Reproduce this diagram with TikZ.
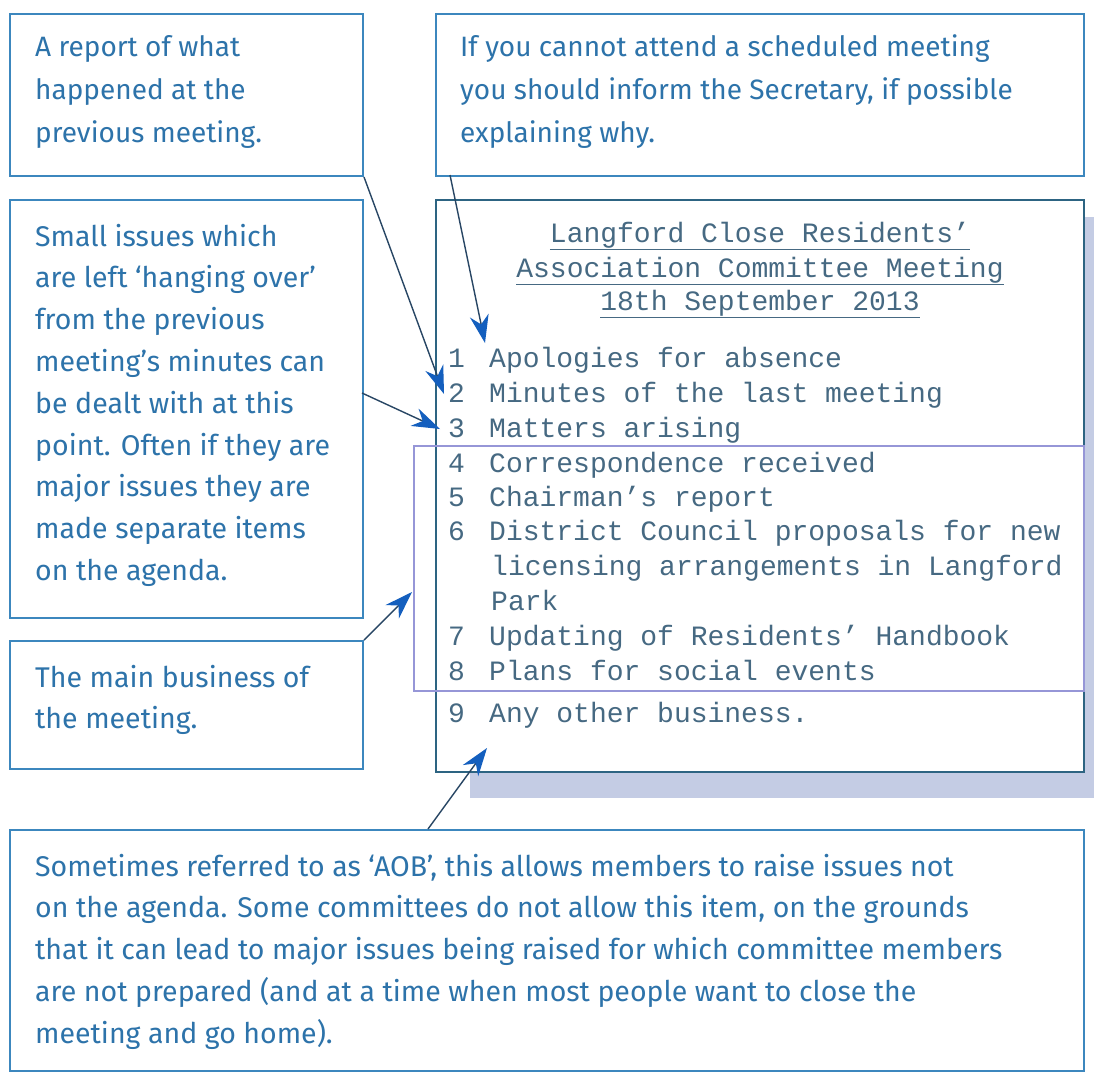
\documentclass[tikz,border=0pt]{standalone}
\usepackage{fontspec}
\setmainfont{Fira Sans}
\setmonofont{Liberation Mono}
\usetikzlibrary{arrows.meta}
\definecolor{boxblue}{RGB}{60,135,190}
\definecolor{agendaline}{RGB}{45,100,130}
\definecolor{innerline}{RGB}{150,150,215}
\definecolor{shadowblue}{RGB}{196,204,228}
\definecolor{noteblue}{RGB}{45,115,170}
\definecolor{monoblue}{RGB}{70,105,130}
\definecolor{arrowline}{RGB}{40,70,100}
\definecolor{headblue}{RGB}{20,95,190}
\tikzset{
  box/.style={draw=boxblue, line width=2pt, fill=white, inner sep=0pt, anchor=north west},
  note/.style={anchor=base west, inner sep=0pt, text=noteblue, font=\fontsize{28.5}{41.8}\selectfont},
  notetop/.style={note, font=\fontsize{28}{43}\selectfont},
  item/.style={anchor=base west, inner sep=0pt, text=monoblue, font=\fontsize{28}{35}\selectfont\ttfamily},
  ttl/.style={anchor=base, inner sep=0pt, text=monoblue, font=\fontsize{28}{35}\selectfont\ttfamily},
  callout/.style={draw=arrowline, line width=1.4pt, -{Stealth[length=28pt,width=19pt,inset=9pt,fill=headblue,color=headblue]}}
}
\begin{document}
\begin{tikzpicture}[x=1pt,y=-1pt]
\useasboundingbox[fill=white] (0,0) rectangle (1094,1071);
% shadow of agenda
\fill[shadowblue] (470,217) rectangle (1094,798);
% boxes
\node[box, minimum width=353pt, minimum height=162pt] (boxA) at (9,13) {};
\node[box, minimum width=648pt, minimum height=162pt] (boxB) at (435,13) {};
\node[box, minimum width=353pt, minimum height=418pt] (boxC) at (9,199) {};
\node[box, minimum width=353pt, minimum height=128pt] (boxD) at (9,640) {};
\node[box, draw=agendaline, minimum width=648pt, minimum height=572pt] (agenda) at (435,199) {};
\node[draw=innerline, line width=1.5pt, inner sep=0pt, anchor=north west, minimum width=670pt, minimum height=245pt] (inner) at (413,445) {};
\node[box, minimum width=1074pt, minimum height=241pt] (boxE) at (9,829) {};
% note texts
\node[notetop] (tA) at (35,56) {\parbox[t]{320pt}{\raggedright A report of what\\happened at the\\previous meeting.}};
\node[notetop] (tB) at (460,56) {\parbox[t]{620pt}{\raggedright If you cannot attend a scheduled meeting\\you should inform the Secretary, if possible\\explaining why.}};
\node[note] (tC) at (35,246) {\parbox[t]{325pt}{\raggedright Small issues which\\are left ‘hanging over’\\from the previous\\meeting’s minutes can\\be dealt with at this\\point. Often if they are\\major issues they are\\made separate items\\on the agenda.}};
\node[note] (tD) at (35,687) {\parbox[t]{325pt}{\raggedright The main business of\\the meeting.}};
\node[note] (tE) at (35,876) {\parbox[t]{1040pt}{\raggedright Sometimes referred to as ‘AOB’, this allows members to raise issues not\\on the agenda. Some committees do not allow this item, on the grounds\\that it can lead to major issues being raised for which committee members\\are not prepared (and at a time when most people want to close the\\meeting and go home).}};
% agenda title
\node[ttl] (ti1) at (760,242) {\underline{Langford Close Residents’}};
\node[ttl] (ti2) at (760,277) {\underline{Association Committee Meeting}};
\node[ttl] (ti3) at (760,310) {\underline{18th September 2013}};
% agenda items
\node[item] (n1) at (448,367) {1}; \node[item] (i1) at (489,367) {Apologies for absence};
\node[item] (n2) at (448,402) {2}; \node[item] (i2) at (489,402) {Minutes of the last meeting};
\node[item] (n3) at (448,437) {3}; \node[item] (i3) at (489,437) {Matters arising};
\node[item] (n4) at (448,472) {4}; \node[item] (i4) at (489,472) {Correspondence received};
\node[item] (n5) at (448,506) {5}; \node[item] (i5) at (489,506) {Chairman’s report};
\node[item] (n6) at (448,540) {6}; \node[item] (i6) at (489,540) {District Council proposals for new};
\node[item] (i6b) at (491,575) {licensing arrangements in Langford};
\node[item] (i6c) at (491,610) {Park};
\node[item] (n7) at (448,645) {7}; \node[item] (i7) at (489,645) {Updating of Residents’ Handbook};
\node[item] (n8) at (448,680) {8}; \node[item] (i8) at (489,680) {Plans for social events};
\node[item] (n9) at (448,722) {9}; \node[item] (i9) at (489,722) {Any other business.};
% connector coordinates
\coordinate (t1) at (444,394);
\coordinate (s2) at (450,175);
\coordinate (t2) at (485,343);
\coordinate (s3) at (362,393);
\coordinate (t3) at (440,429);
\coordinate (t4) at (412,592);
\coordinate (s5) at (428,829);
\coordinate (t5) at (487,748);
% connectors
\draw[callout] (boxA.south east) -- (t1);
\draw[callout] (s2) -- (t2);
\draw[callout] (s3) -- (t3);
\draw[callout] (boxD.north east) -- (t4);
\draw[callout] (s5) -- (t5);
\end{tikzpicture}
\end{document}
